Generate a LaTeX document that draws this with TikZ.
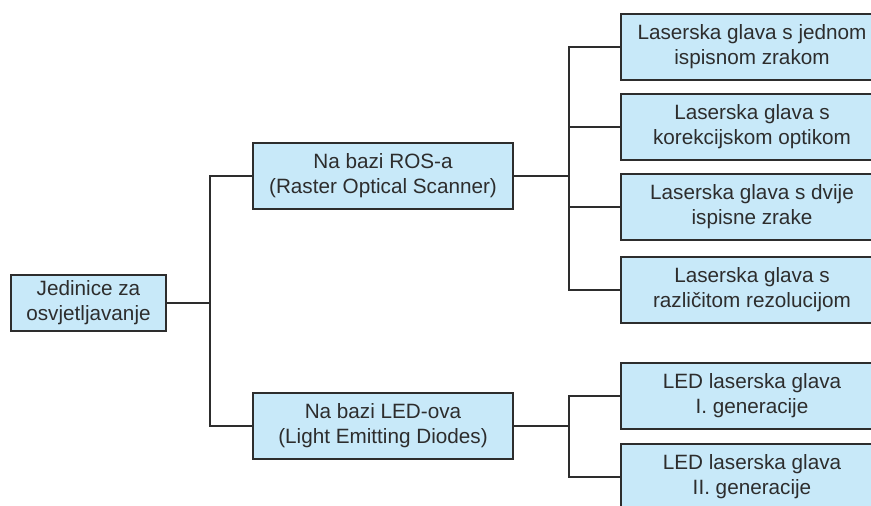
\documentclass[tikz,border=0pt]{standalone}
\usepackage{fontspec}
\setmainfont{Liberation Sans}
\definecolor{boxfill}{RGB}{200,233,249}
\definecolor{boxline}{RGB}{45,45,45}
\definecolor{txt}{RGB}{45,45,45}
\begin{document}
\begin{tikzpicture}[x=1pt,y=-1pt,
  box/.style={draw=boxline, fill=boxfill, line width=1.8pt, align=center,
    text=txt, inner sep=0pt, minimum height=66pt,
    font=\fontsize{20.7}{25}\selectfont},
  conn/.style={draw=boxline, line width=1.8pt}]
\useasboundingbox (0,0) rectangle (871,506);
\node[box, minimum width=155pt, minimum height=56pt] (root) at (88.5,303) {Jedinice za\\osvjetljavanje};
\node[box, minimum width=260pt] (ros) at (383,176) {Na bazi ROS-a\\(Raster Optical Scanner)};
\node[box, minimum width=260pt] (led) at (383,426) {Na bazi LED-ova\\(Light Emitting Diodes)};
\node[box, minimum width=262pt] (r1) at (752,47) {Laserska glava s jednom\\ispisnom zrakom};
\node[box, minimum width=262pt] (r2) at (752,127) {Laserska glava s\\korekcijskom optikom};
\node[box, minimum width=262pt] (r3) at (752,207) {Laserska glava s dvije\\ispisne zrake};
\node[box, minimum width=262pt] (r4) at (752,290) {Laserska glava s\\različitom rezolucijom};
\node[box, minimum width=262pt] (r5) at (752,396) {LED laserska glava\\I. generacije};
\node[box, minimum width=262pt] (r6) at (752,477) {LED laserska glava\\II. generacije};
\coordinate (j0) at (210,303);
\coordinate (j1) at (569,176);
\coordinate (j2) at (569,426);
\draw[conn] (root.east) -- (j0);
\draw[conn] (j0) |- (ros.west);
\draw[conn] (j0) |- (led.west);
\draw[conn] (ros.east) -- (j1);
\foreach \n in {r1,r2,r3,r4} \draw[conn] (j1) |- (\n.west);
\draw[conn] (led.east) -- (j2);
\foreach \n in {r5,r6} \draw[conn] (j2) |- (\n.west);
\end{tikzpicture}
\end{document}
